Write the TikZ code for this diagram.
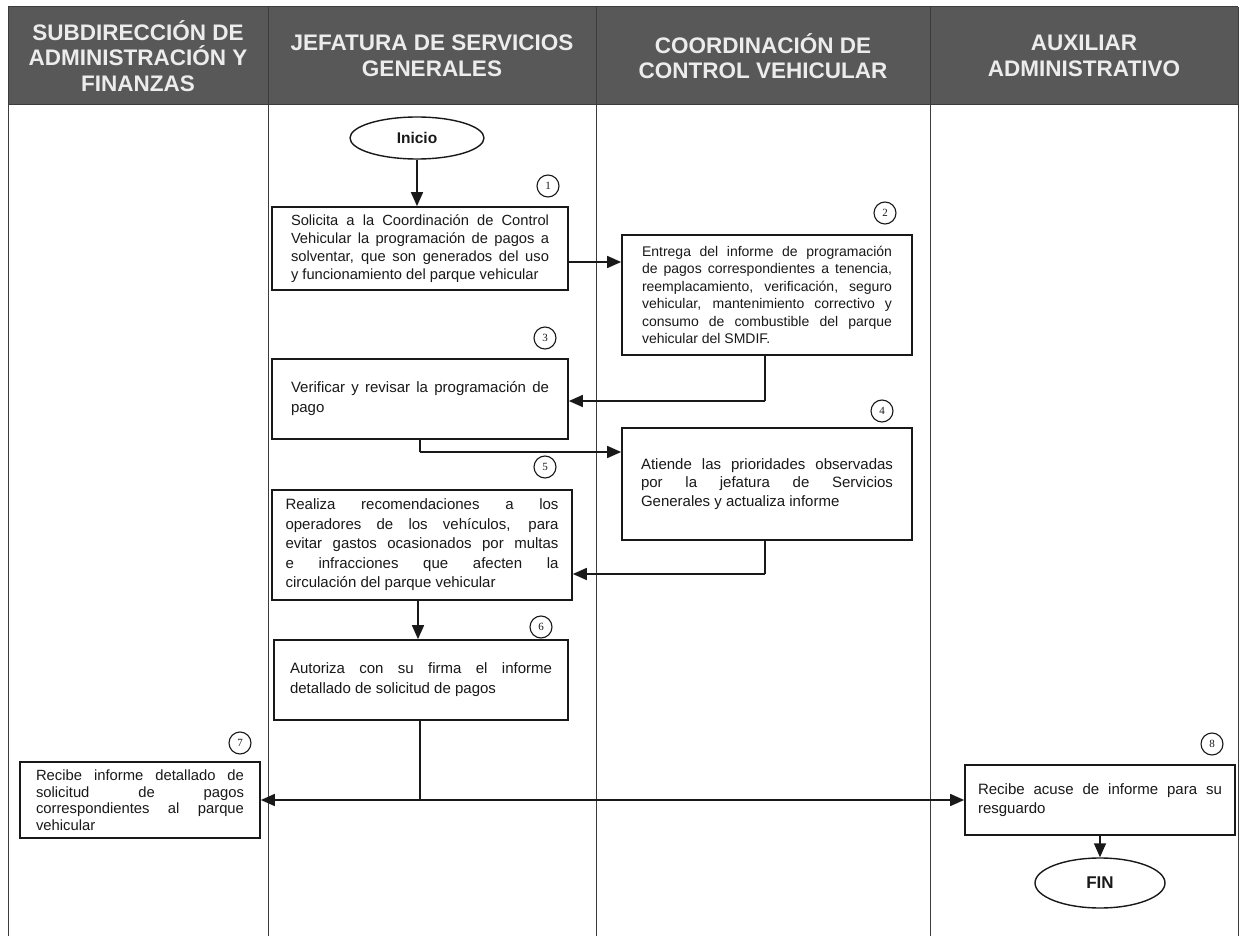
\documentclass[tikz,border=0pt]{standalone}
\usepackage{fontspec}
\setmainfont{Liberation Sans}
\newfontfamily\numfont{Liberation Serif}
\usetikzlibrary{arrows.meta,shapes.geometric}
\definecolor{hdr}{RGB}{88,88,88}
\definecolor{hdrtxt}{RGB}{236,236,236}
\definecolor{ink}{RGB}{25,25,25}
\begin{document}
\begin{tikzpicture}[x=1pt,y=-1pt,
 lane/.style={draw=ink!85, line width=1pt},
 stepbox/.style={draw=ink, line width=1.7pt, align=justify, inner sep=0pt, text=ink},
 term/.style={draw=ink, line width=1.4pt, ellipse, inner sep=0pt, text=ink},
 num/.style={draw=ink, circle, line width=1.1pt, minimum size=22pt, inner sep=0pt, text=ink, font=\numfont\fontsize{11}{11}\selectfont},
 conn/.style={draw=ink, line width=1.1pt},
 arr/.style={draw=ink, line width=1.6pt, -{Triangle[length=14pt,width=12pt]}},
 head/.style={align=center, text=hdrtxt, font=\bfseries\fontsize{22.5}{25.5}\selectfont}]
\useasboundingbox (0,0) rectangle (1243,941);
\fill[white] (0,0) rectangle (1243,941);
% header and lanes
\fill[hdr] (8,7) rectangle (1238,105);
\draw[lane] (8,7) -- (1238,7);
\draw[lane] (8,105) -- (1238,105);
\draw[lane] (8,7) -- (8,936);
\draw[lane] (268,7) -- (268,936);
\draw[lane] (596,7) -- (596,936);
\draw[lane] (930,7) -- (930,936);
\draw[lane] (1238,7) -- (1238,936);
\node[head] (h1) at (138,56) {SUBDIRECCIÓN DE\\ADMINISTRACIÓN Y\\FINANZAS};
\node[head] (h2) at (432,56) {JEFATURA DE SERVICIOS\\GENERALES};
\node[head] (h3) at (763,56) {COORDINACIÓN DE\\CONTROL VEHICULAR};
\node[head] (h4) at (1084,56) {AUXILIAR\\ADMINISTRATIVO};
% terminals
\node[term, minimum width=134pt, minimum height=42pt, font=\bfseries\fontsize{15.5}{18}\selectfont] (ini) at (417,138) {Inicio};
\node[term, minimum width=130pt, minimum height=50pt, font=\bfseries\fontsize{17}{20}\selectfont] (fin) at (1100,883) {FIN};
% steps
\node[stepbox, minimum width=296pt, minimum height=83pt, text width=258pt, font=\fontsize{14.7}{18}\selectfont] (b1) at (420,248.5)
 {Solicita a la Coordinación de Control\linebreak Vehicular la programación de pagos a\linebreak solventar, que son generados del uso\linebreak y funcionamiento del parque vehicular};
\node[stepbox, minimum width=290pt, minimum height=120pt, text width=250pt, font=\fontsize{14}{17.5}\selectfont] (b2) at (767,295)
 {Entrega del informe de programación\linebreak de pagos correspondientes a tenencia,\linebreak reemplacamiento, verificación, seguro\linebreak vehicular, mantenimiento correctivo y\linebreak consumo de combustible del parque\linebreak vehicular del SMDIF.};
\node[stepbox, minimum width=296pt, minimum height=80pt, text width=258pt, font=\fontsize{15}{20}\selectfont] (b3) at (420,399)
 {Verificar y revisar la programación de\linebreak pago};
\node[stepbox, minimum width=290pt, minimum height=112pt, text width=252pt, font=\fontsize{15}{18.5}\selectfont] (b4) at (767,484)
 {Atiende las prioridades observadas\linebreak por la jefatura de Servicios\linebreak Generales y actualiza informe};
\node[stepbox, minimum width=300pt, minimum height=110pt, text width=273pt, font=\fontsize{15}{19.5}\selectfont] (b5) at (422,545)
 {Realiza recomendaciones a los\linebreak operadores de los vehículos, para\linebreak evitar gastos ocasionados por multas\linebreak e infracciones que afecten la\linebreak circulación del parque vehicular};
\node[stepbox, minimum width=294pt, minimum height=80pt, text width=262pt, font=\fontsize{15}{20}\selectfont] (b6) at (421,680)
 {Autoriza con su firma el informe\linebreak detallado de solicitud de pagos};
\node[stepbox, minimum width=240pt, minimum height=76pt, text width=208pt, font=\fontsize{14.8}{16.5}\selectfont] (b7) at (140,800)
 {Recibe informe detallado de\linebreak solicitud de pagos\linebreak correspondientes al parque\linebreak vehicular};
\node[stepbox, minimum width=270pt, minimum height=70pt, text width=244pt, font=\fontsize{15}{19}\selectfont] (b8) at (1100,800)
 {Recibe acuse de informe para su\linebreak resguardo};
% step numbers
\node[num] (n1) at (548,186) {1};
\node[num] (n2) at (885,213) {2};
\node[num] (n3) at (545,338) {3};
\node[num] (n4) at (882,411) {4};
\node[num] (n5) at (545,467) {5};
\node[num] (n6) at (541,627) {6};
\node[num] (n7) at (240,743) {7};
\node[num] (n8) at (1212,744) {8};
% connector bends
\coordinate (p12) at (580,262);
\coordinate (p23) at (765,401);
\coordinate (p34) at (420,452);
\coordinate (p45) at (765,574);
\coordinate (p56) at (418,0);
\coordinate (p67) at (420,800);
% connectors
\draw[arr] (ini.south) -- (ini.south |- b1.north);
\draw[arr] (b1.east |- p12) -- (b2.west |- p12);
\draw[conn] (b2.south -| p23) -- (p23);
\draw[arr] (p23) -- (b3.east |- p23);
\draw[conn] (b3.south -| p34) -- (p34);
\draw[arr] (p34) -- (b4.west |- p34);
\draw[conn] (b4.south -| p45) -- (p45);
\draw[arr] (p45) -- (b5.east |- p45);
\draw[arr] (b5.south -| p56) -- (b6.north -| p56);
\draw[conn] (b6.south -| p67) -- (p67);
\draw[arr] (p67) -- (b7.east |- p67);
\draw[arr] (p67) -- (b8.west |- p67);
\draw[arr] (b8.south) -- (fin.north);
\end{tikzpicture}
\end{document}
